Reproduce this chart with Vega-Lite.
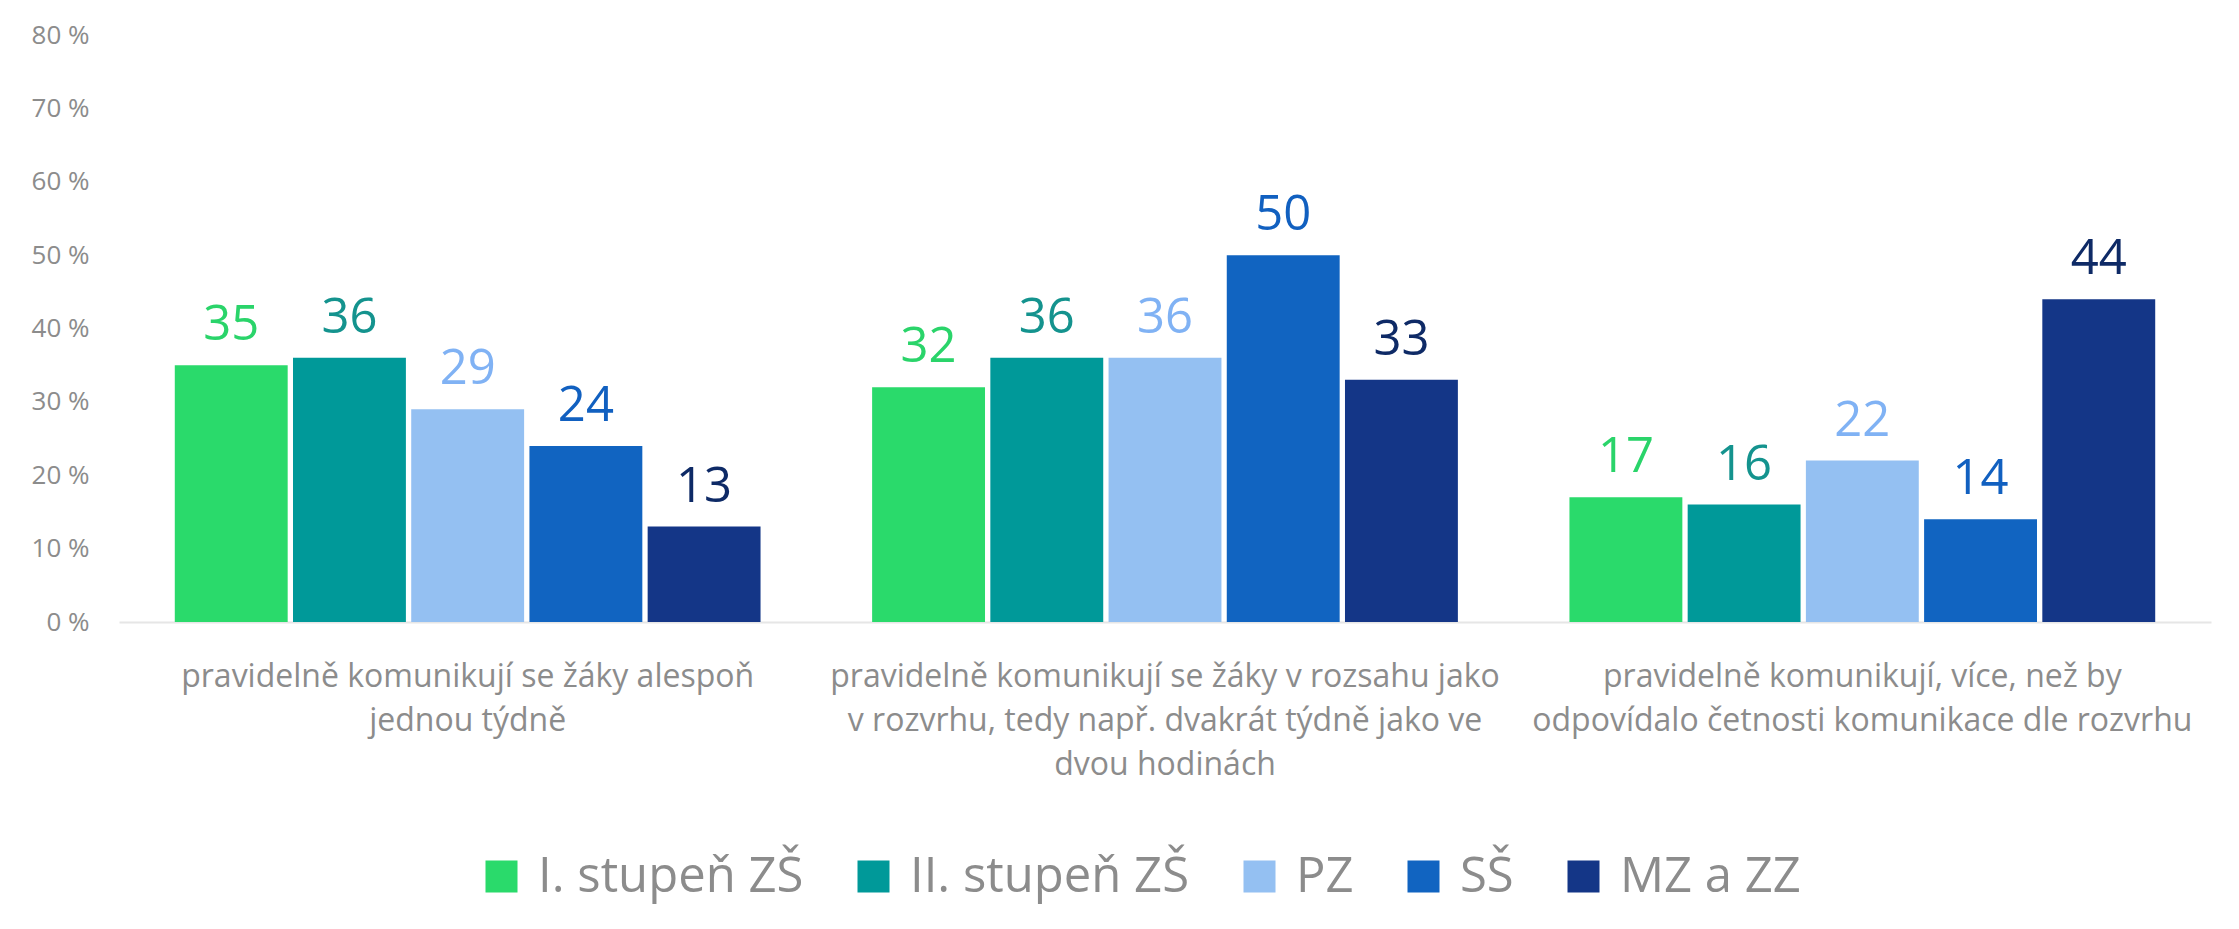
{
  "$schema": "https://vega.github.io/schema/vega-lite/v6.json",
  "width": 2092,
  "height": 587,
  "autosize": {"type": "none"},
  "padding": {"left": 119, "top": 35, "right": 28, "bottom": 307},
  "background": "#ffffff",
  "config": {
    "font": "Open Sans",
    "view": {"stroke": null},
    "axis": {"grid": false, "ticks": false, "labelColor": "#8c8c8c", "labelFont": "Open Sans"},
    "legend": {"labelFont": "Open Sans"}
  },
  "data": {
    "values": [
      {"kategorie": "pravidelně komunikují se žáky alespoň|jednou týdně", "skupina": "I. stupeň ZŠ", "hodnota": 35},
      {"kategorie": "pravidelně komunikují se žáky alespoň|jednou týdně", "skupina": "II. stupeň ZŠ", "hodnota": 36},
      {"kategorie": "pravidelně komunikují se žáky alespoň|jednou týdně", "skupina": "PZ", "hodnota": 29},
      {"kategorie": "pravidelně komunikují se žáky alespoň|jednou týdně", "skupina": "SŠ", "hodnota": 24},
      {"kategorie": "pravidelně komunikují se žáky alespoň|jednou týdně", "skupina": "MZ a ZZ", "hodnota": 13},
      {"kategorie": "pravidelně komunikují se žáky v rozsahu jako|v rozvrhu, tedy např. dvakrát týdně jako ve|dvou hodinách", "skupina": "I. stupeň ZŠ", "hodnota": 32},
      {"kategorie": "pravidelně komunikují se žáky v rozsahu jako|v rozvrhu, tedy např. dvakrát týdně jako ve|dvou hodinách", "skupina": "II. stupeň ZŠ", "hodnota": 36},
      {"kategorie": "pravidelně komunikují se žáky v rozsahu jako|v rozvrhu, tedy např. dvakrát týdně jako ve|dvou hodinách", "skupina": "PZ", "hodnota": 36},
      {"kategorie": "pravidelně komunikují se žáky v rozsahu jako|v rozvrhu, tedy např. dvakrát týdně jako ve|dvou hodinách", "skupina": "SŠ", "hodnota": 50},
      {"kategorie": "pravidelně komunikují se žáky v rozsahu jako|v rozvrhu, tedy např. dvakrát týdně jako ve|dvou hodinách", "skupina": "MZ a ZZ", "hodnota": 33},
      {"kategorie": "pravidelně komunikují, více, než by|odpovídalo četnosti komunikace dle rozvrhu", "skupina": "I. stupeň ZŠ", "hodnota": 17},
      {"kategorie": "pravidelně komunikují, více, než by|odpovídalo četnosti komunikace dle rozvrhu", "skupina": "II. stupeň ZŠ", "hodnota": 16},
      {"kategorie": "pravidelně komunikují, více, než by|odpovídalo četnosti komunikace dle rozvrhu", "skupina": "PZ", "hodnota": 22},
      {"kategorie": "pravidelně komunikují, více, než by|odpovídalo četnosti komunikace dle rozvrhu", "skupina": "SŠ", "hodnota": 14},
      {"kategorie": "pravidelně komunikují, více, než by|odpovídalo četnosti komunikace dle rozvrhu", "skupina": "MZ a ZZ", "hodnota": 44}
    ]
  },
  "encoding": {
    "x": {
      "field": "kategorie", "type": "nominal", "sort": null,
      "scale": {"paddingInner": 0.16, "paddingOuter": 0.08},
      "axis": {
        "title": null, "labelAngle": 0, "labelFontSize": 32, "labelLineHeight": 44,
        "labelPadding": 39, "labelExpr": "split(datum.label, '|')",
        "domainColor": "#e6e6e6", "domainWidth": 2, "labelLimit": 0
      }
    },
    "xOffset": {
      "field": "skupina", "type": "nominal", "sort": ["I. stupeň ZŠ", "II. stupeň ZŠ", "PZ", "SŠ", "MZ a ZZ"],
      "scale": {"paddingInner": 0.045, "paddingOuter": 0}
    },
    "y": {
      "field": "hodnota", "type": "quantitative",
      "scale": {"domain": [0, 80]},
      "axis": {
        "title": null, "domain": false, "values": [0, 10, 20, 30, 40, 50, 60, 70, 80],
        "labelExpr": "datum.value + ' %'", "labelFontSize": 26, "labelPadding": 30
      }
    }
  },
  "layer": [
    {
      "mark": {"type": "bar"},
      "encoding": {
        "color": {
          "field": "skupina", "type": "nominal",
          "sort": ["I. stupeň ZŠ", "II. stupeň ZŠ", "PZ", "SŠ", "MZ a ZZ"],
          "scale": {"domain": ["I. stupeň ZŠ", "II. stupeň ZŠ", "PZ", "SŠ", "MZ a ZZ"], "range": ["#2ada6b", "#009999", "#94c0f2", "#1164c1", "#143687"]},
          "legend": {
            "title": null, "orient": "none", "legendX": 358, "legendY": 817,
            "direction": "horizontal", "columns": 5,
            "gridAlign": "none", "symbolType": "square", "symbolSize": 1024, "symbolStrokeWidth": 0,
            "labelFontSize": 49, "labelColor": "#8c8c8c", "labelOffset": 12, "columnPadding": 45,
            "labelLimit": 0
          }
        }
      }
    },
    {
      "mark": {"type": "text", "baseline": "alphabetic", "dy": -25, "fontSize": 49, "font": "Open Sans"},
      "encoding": {
        "text": {"field": "hodnota", "type": "quantitative"},
        "color": {
          "field": "skupina", "type": "nominal",
          "scale": {"domain": ["I. stupeň ZŠ", "II. stupeň ZŠ", "PZ", "SŠ", "MZ a ZZ"], "range": ["#2ad46a", "#14938e", "#80b2f4", "#1160c0", "#0e2a66"]},
          "legend": null
        }
      }
    }
  ],
  "resolve": {"scale": {"color": "independent"}}
}
